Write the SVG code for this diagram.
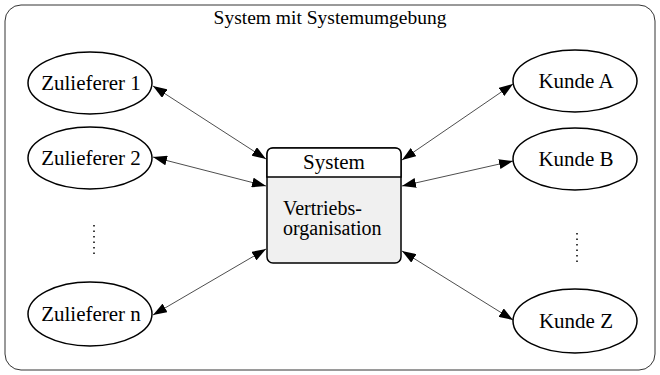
<svg xmlns="http://www.w3.org/2000/svg" width="660" height="375" viewBox="0 0 660 375">
<style>
text{font-family:"Liberation Serif","Times New Roman",serif;fill:#000}
.t{font-size:21px;text-anchor:middle}
.b{font-size:20px}
.e{fill:#fff;stroke:#000;stroke-width:1.5}
.c{stroke:#000;stroke-width:0.7;fill:none;marker-start:url(#ah);marker-end:url(#ah)}
.dots{stroke:#000;stroke-width:1.5;stroke-dasharray:1.5 4;fill:none}
</style>
<defs>
<marker id="ah" viewBox="0 0 14 10" refX="14" refY="5" markerWidth="14" markerHeight="10" markerUnits="userSpaceOnUse" orient="auto-start-reverse">
<path d="M0,0 L14,5 L0,10 z" fill="#000"/>
</marker>
</defs>
<g id="umgebung">
<rect x="5" y="5" width="650" height="365" rx="16" ry="16" fill="#fff" stroke="#000" stroke-width="0.8"/>
<text x="330" y="24" font-size="19.5" text-anchor="middle">System mit Systemumgebung</text>
</g>
<g id="connectors">
<line class="c" x1="153" y1="86" x2="266" y2="159"/>
<line class="c" x1="153" y1="157" x2="266" y2="186"/>
<line class="c" x1="153" y1="315" x2="266" y2="249"/>
<line class="c" x1="402" y1="160" x2="513" y2="84"/>
<line class="c" x1="402" y1="186" x2="513" y2="161"/>
<line class="c" x1="402" y1="251" x2="513" y2="320"/>
</g>
<g id="zulieferer1"><ellipse class="e" cx="90" cy="83" rx="62" ry="31"/><text class="t" x="91" y="90">Zulieferer 1</text></g>
<g id="zulieferer2"><ellipse class="e" cx="90" cy="158" rx="62" ry="31"/><text class="t" x="91" y="165">Zulieferer 2</text></g>
<g id="dotsLeft"><line class="dots" x1="94" y1="225" x2="94" y2="256"/></g>
<g id="zulieferern"><ellipse class="e" cx="90" cy="314" rx="62" ry="32"/><text class="t" x="91" y="321">Zulieferer n</text></g>
<g id="kundeA"><ellipse class="e" cx="575" cy="81" rx="62" ry="31"/><text class="t" x="576" y="88">Kunde A</text></g>
<g id="kundeB"><ellipse class="e" cx="575" cy="159" rx="62" ry="31"/><text class="t" x="576" y="166">Kunde B</text></g>
<g id="dotsRight"><line class="dots" x1="577" y1="233" x2="577" y2="264"/></g>
<g id="kundeZ"><ellipse class="e" cx="575" cy="321" rx="62" ry="32"/><text class="t" x="576" y="328">Kunde Z</text></g>
<g id="system">
<rect x="267" y="148" width="134" height="115" rx="6" ry="6" fill="#f0f0f0" stroke="#000" stroke-width="1.5"/>
<path d="M267,177 V154 Q267,148 273,148 H395 Q401,148 401,154 V177 Z" fill="#fff" stroke="#000" stroke-width="1.5"/>
<text class="t" x="334" y="169">System</text>
<text class="b" x="283" y="215">Vertriebs-</text>
<text class="b" x="283" y="235">organisation</text>
</g>
</svg>
